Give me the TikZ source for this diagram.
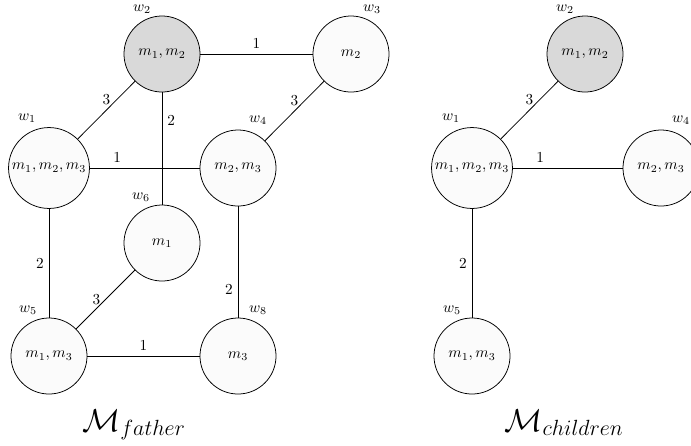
\documentclass[tikz,border=0pt]{standalone}
\usepackage{amsmath}
\begin{document}
\begin{tikzpicture}[x=0.655pt,y=-0.655pt,
  st/.style={circle,draw=black,line width=0.5pt,fill=gray!3,minimum size=49.8pt,inner sep=0pt},
  big/.style={st,minimum size=53pt},
  root/.style={st,fill=gray!30},
  wl/.style={inner sep=0pt},
  edge/.style={draw=black,line width=0.5pt},
  el/.style={inner sep=3.2pt}]
\useasboundingbox (0,0) rectangle (691,445);
\clip (0,0) rectangle (691,445);
% ---- father graph
\node[big]  (a1) at (49,168)  {$m_1,m_2,m_3$};
\node[root] (a2) at (162,54)  {$m_1,m_2$};
\node[st]   (a3) at (351,54)  {$m_2$};
\node[st]   (a4) at (238,168) {$m_2,m_3$};
\node[st]   (a6) at (162,243) {$m_1$};
\node[st]   (a5) at (49,356)  {$m_1,m_3$};
\node[st]   (a8) at (238,356) {$m_3$};
\node[wl] (la1) at (27,118)  {$w_1$};
\node[wl] (la2) at (142,9)   {$w_2$};
\node[wl] (la3) at (372,9)   {$w_3$};
\node[wl] (la4) at (258,120) {$w_4$};
\node[wl] (la6) at (141,197) {$w_6$};
\node[wl] (la5) at (28,310)  {$w_5$};
\node[wl] (la8) at (258,310) {$w_8$};
\draw[edge] (a2) -- node[el,above] {1} (a3);
\draw[edge] (a1) -- node[el,above] {3} (a2);
\draw[edge] (a3) -- node[el,above] {3} (a4);
\draw[edge] (a1) -- node[el,pos=0.25,above] {1} (a4);
\draw[edge] (a2) -- node[el,pos=0.25,right] {2} (a6);
\draw[edge] (a1) -- node[el,left] {2} (a5);
\draw[edge] (a6) -- node[el,left] {3} (a5);
\draw[edge] (a4) -- node[el,pos=0.75,left] {2} (a8);
\draw[edge] (a5) -- node[el,above] {1} (a8);
\node[anchor=base] (t1) at (134,431) {\huge $\mathcal{M}_{father}$};
% ---- children graph
\node[big]  (b1) at (472,168) {$m_1,m_2,m_3$};
\node[root] (b2) at (585,54)  {$m_1,m_2$};
\node[st]   (b4) at (661,168) {$m_2,m_3$};
\node[st]   (b5) at (472,356) {$m_1,m_3$};
\node[wl] (lb1) at (451,118) {$w_1$};
\node[wl] (lb2) at (565,9)   {$w_2$};
\node[wl] (lb4) at (681,120) {$w_4$};
\node[wl] (lb5) at (452,310) {$w_5$};
\draw[edge] (b1) -- node[el,above] {3} (b2);
\draw[edge] (b1) -- node[el,pos=0.25,above] {1} (b4);
\draw[edge] (b1) -- node[el,left] {2} (b5);
\node[anchor=base] (t2) at (564,431) {\huge $\mathcal{M}_{children}$};
\end{tikzpicture}
\end{document}
